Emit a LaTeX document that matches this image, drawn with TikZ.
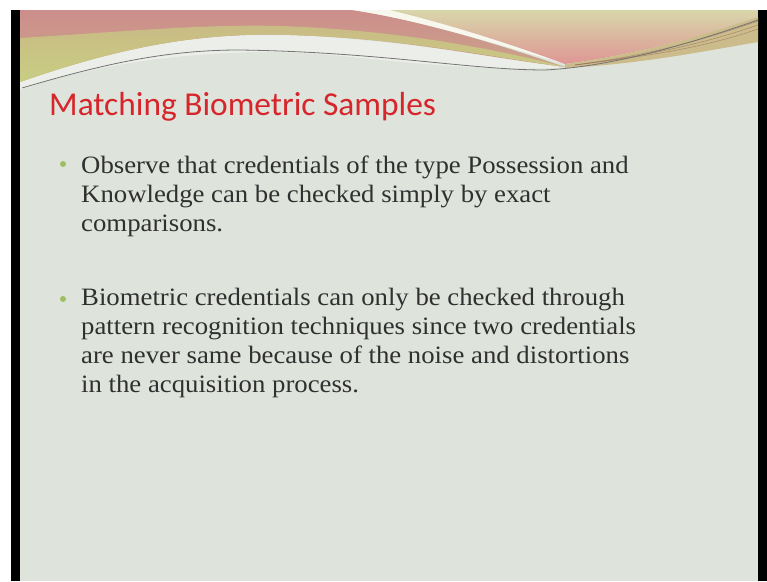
\documentclass[tikz,border=0pt]{standalone}
\usepackage{fontspec}
\setmainfont{Liberation Serif}[FakeStretch=1.07]
\newfontfamily\titlefont{Carlito}
\definecolor{slidebg}{RGB}{222,228,219}
\definecolor{lightband}{RGB}{236,239,233}
\definecolor{bandpink}{RGB}{204,142,140}
\definecolor{bandgreen}{RGB}{200,206,130}
\definecolor{rightpale}{RGB}{216,214,170}
\definecolor{rightpink}{RGB}{222,150,148}
\definecolor{bandtan}{RGB}{204,188,140}
\definecolor{linebrown}{RGB}{150,110,90}
\definecolor{titlered}{RGB}{214,38,44}
\definecolor{bodygray}{RGB}{48,48,48}
\definecolor{bulletgreen}{RGB}{158,190,100}

\begin{document}
\begin{tikzpicture}[x=1pt,y=-1pt,
    bodytext/.style={anchor=base west,align=left,inner sep=0pt,text=bodygray,
        font=\fontsize{25}{29}\selectfont},
    bulletdot/.style={circle,fill=bulletgreen,inner sep=0pt,minimum size=6pt}]
    \useasboundingbox (0,0) rectangle (767,581);
    \fill[white] (0,0) rectangle (767,581);

    % screen frame and slide
    \fill[black] (11,10) rectangle (20,581);
    \fill[black] (758,10) rectangle (767,581);
    \fill[slidebg] (20,10) rectangle (758,581);

    % top wave decoration
    \fill[lightband] (20,80) .. controls (120,47) and (200,32) .. (290,35)
        .. controls (400,40) and (500,58) .. (565,67)
        .. controls (500,72) and (420,64) .. (342,56)
        .. controls (250,46) and (120,55) .. (20,90) -- cycle;
    \shade[top color=bandpink,bottom color=bandpink!60!bandgreen]
        (20,10) -- (352,10) .. controls (420,20) and (500,45) .. (565,67)
        .. controls (470,55) and (400,38) .. (290,35)
        .. controls (200,32) and (120,47) .. (20,82) -- cycle;
    \shade[top color=bandgreen!70!bandpink,bottom color=bandgreen]
        (20,38) .. controls (120,32) and (200,24) .. (280,26)
        .. controls (400,30) and (500,50) .. (565,67)
        .. controls (500,58) and (400,38) .. (290,35)
        .. controls (200,32) and (120,47) .. (20,82) -- cycle;
    \fill[white!80!rightpale] (352,10) -- (390,10)
        .. controls (440,22) and (500,40) .. (565,64)
        .. controls (500,45) and (420,20) .. (352,10) -- cycle;
    \shade[top color=rightpale,bottom color=rightpink]
        (390,10) -- (758,10) -- (758,17)
        .. controls (700,36) and (640,54) .. (565,64)
        .. controls (500,40) and (440,22) .. (390,10) -- cycle;
    \fill[bandtan] (565,64) .. controls (640,54) and (700,36) .. (758,17)
        -- (758,42) .. controls (700,52) and (640,64) .. (565,68) -- cycle;
    \foreach \dy in {3,7,11}{
        \draw[linebrown,line width=0.6pt,opacity=0.6]
            (575,65) .. controls (645,56) and (700,38+\dy) .. (758,18+\dy);
    }
    \draw[black!55,line width=0.8pt] (22,88) .. controls (110,62) and (170,50) .. (240,50)
        .. controls (380,52) and (470,70) .. (545,70)
        .. controls (620,66) and (700,40) .. (758,20);

    % title
    \node[anchor=base west,inner sep=0pt,text=titlered,
        font=\titlefont\fontsize{33.4}{40}\selectfont] (title) at (49,115)
        {Matching Biometric Samples};

    % bullets (anchored at the baseline of the last line)
    \node[bulletdot] (dotA) at (63,164) {};
    \node[bodytext] (pointA) at (81,231)
        {Observe that credentials of the type Possession and\\
         Knowledge can be checked simply by exact\\
         comparisons.};
    \node[bulletdot] (dotB) at (63,299) {};
    \node[bodytext] (pointB) at (81,392)
        {Biometric credentials can only be checked through\\
         pattern recognition techniques since two credentials\\
         are never same because of the noise and distortions\\
         in the acquisition process.};
\end{tikzpicture}
\end{document}
